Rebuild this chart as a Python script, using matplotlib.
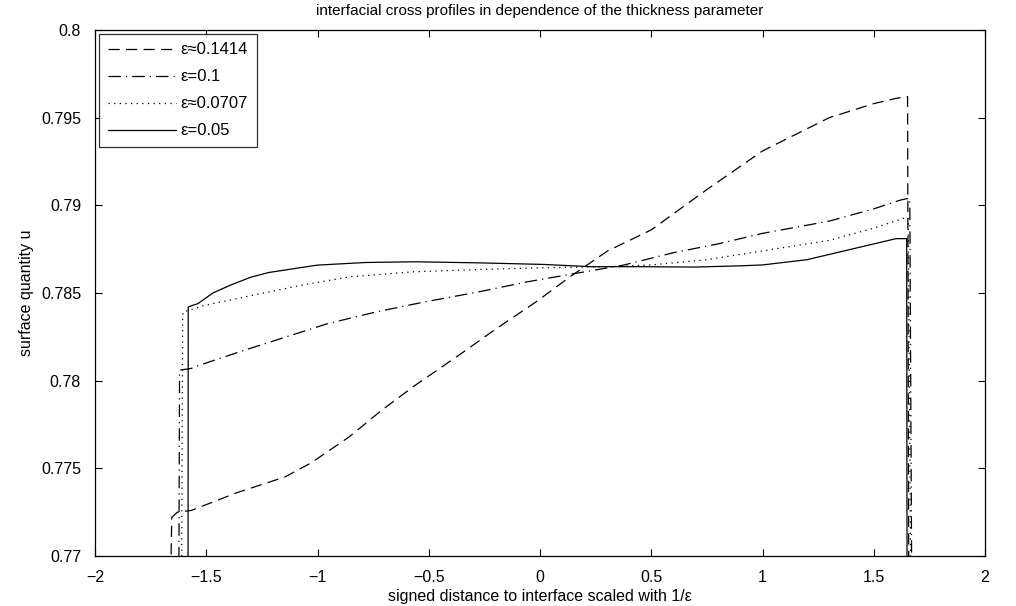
import matplotlib
matplotlib.use("Agg")
import matplotlib.pyplot as plt
import numpy as np

plt.rcParams['font.family'] = ['Liberation Sans', 'DejaVu Sans']

# eps ~ 0.1414 (dashed)
x_a = [-1.665, -1.655, -1.63, -1.567, -1.365, -1.148, -1.03, -0.857, -0.713, -0.565,
       -0.348, -0.204, -0.017, 0.143, 0.304, 0.5, 0.75, 1.0, 1.3, 1.5, 1.6, 1.645, 1.652, 1.658]
u_a = [0.765, 0.7722, 0.7725, 0.7726, 0.7736, 0.7745, 0.7753, 0.7768, 0.7783, 0.7797,
       0.7816, 0.7829, 0.7845, 0.7860, 0.7874, 0.7886, 0.7909, 0.7931, 0.7950, 0.7958,
       0.7961, 0.7962, 0.7962, 0.765]

# eps = 0.1 (dash-dot)
x_b = [-1.624, -1.62, -1.567, -1.538, -1.335, -1.147, -0.958, -0.74, -0.523, -0.277,
       -0.06, 0.129, 0.375, 0.6, 0.8, 1.0, 1.3, 1.5, 1.62, 1.655, 1.662, 1.672]
u_b = [0.765, 0.7806, 0.7807, 0.78085, 0.78171, 0.78247, 0.78324, 0.78391, 0.78448,
       0.78506, 0.78563, 0.78605, 0.78659, 0.7873, 0.7878, 0.7884, 0.7891, 0.7898,
       0.7903, 0.7904, 0.7904, 0.765]

# eps ~ 0.0707 (dotted)
x_c = [-1.612, -1.606, -1.604, -1.509, -1.291, -1.074, -0.857, -0.567, -0.277, 0.013,
       0.303, 0.5, 0.75, 1.0, 1.3, 1.5, 1.62, 1.645, 1.655, 1.668]
u_c = [0.765, 0.7835, 0.78391, 0.78429, 0.78487, 0.78544, 0.78592, 0.78621, 0.78634,
       0.78644, 0.7865, 0.7866, 0.7869, 0.7874, 0.7880, 0.7887, 0.7892, 0.7893, 0.7893, 0.765]

# eps = 0.05 (solid)
x_d = [-1.582, -1.581, -1.56, -1.538, -1.47, -1.393, -1.3, -1.219, -1.1, -1.001, -0.784,
       -0.567, -0.277, 0.013, 0.23, 0.448, 0.7, 0.9, 1.0, 1.2, 1.3, 1.5, 1.6, 1.645, 1.648, 1.65]
u_d = [0.765, 0.7842, 0.7843, 0.78439, 0.7850, 0.78544, 0.7859, 0.78617, 0.7864, 0.78659,
       0.78674, 0.78678, 0.78672, 0.78663, 0.7865, 0.7865, 0.78648, 0.78655, 0.7866,
       0.7869, 0.7872, 0.7878, 0.7881, 0.7881, 0.7881, 0.765]

labels = ['ε≈0.1414', 'ε=0.1', 'ε≈0.0707', 'ε=0.05']
x_ticks = [-2, -1.5, -1, -0.5, 0, 0.5, 1, 1.5, 2]
x_ticklabels = ['−2', '−1.5', '−1', '−0.5', '0', '0.5', '1', '1.5', '2']
y_ticks = [0.77, 0.775, 0.78, 0.785, 0.79, 0.795, 0.8]
y_ticklabels = ['0.77', '0.775', '0.78', '0.785', '0.79', '0.795', '0.8']

fig = plt.figure(figsize=(10.16, 6.06), dpi=100)
ax = fig.add_axes([95 / 1016, 1 - 556 / 606, (985 - 95) / 1016, (556 - 30) / 606])

lw = 0.9
ax.plot(x_a, u_a, color='black', lw=lw, linestyle=(0, (9, 5)), label=labels[0])
ax.plot(x_b, u_b, color='black', lw=lw, linestyle=(0, (10, 4, 1, 4)), label=labels[1])
ax.plot(x_c, u_c, color='black', lw=lw, linestyle=(0, (1, 3.5)), label=labels[2])
ax.plot(x_d, u_d, color='black', lw=lw, linestyle='-', label=labels[3])

ax.set_xlim(-2, 2)
ax.set_ylim(0.77, 0.8)
ax.set_xticks(x_ticks)
ax.set_xticklabels(x_ticklabels)
ax.set_yticks(y_ticks)
ax.set_yticklabels(y_ticklabels)
ax.tick_params(direction='in', top=True, right=True, length=5, width=0.8,
               labelsize=11.5)
ax.tick_params(axis='x', pad=10)
ax.tick_params(axis='y', pad=10)
for s in ax.spines.values():
    s.set_linewidth(0.9)

ax.set_xlabel('signed distance to interface scaled with 1/ε', fontsize=11.5, labelpad=3)
ax.set_ylabel('surface quantity u', fontsize=11.5, labelpad=5)
ax.set_title('interfacial cross profiles in dependence of the thickness parameter',
             fontsize=11, pad=11)

leg = ax.legend(loc='upper left', fontsize=12, frameon=True, fancybox=False,
                edgecolor='black', handlelength=4.1, borderaxespad=0.25,
                labelspacing=0.72, handletextpad=0.3, borderpad=0.5)
leg.get_frame().set_linewidth(0.9)

fig.savefig('out.png', dpi=100)
